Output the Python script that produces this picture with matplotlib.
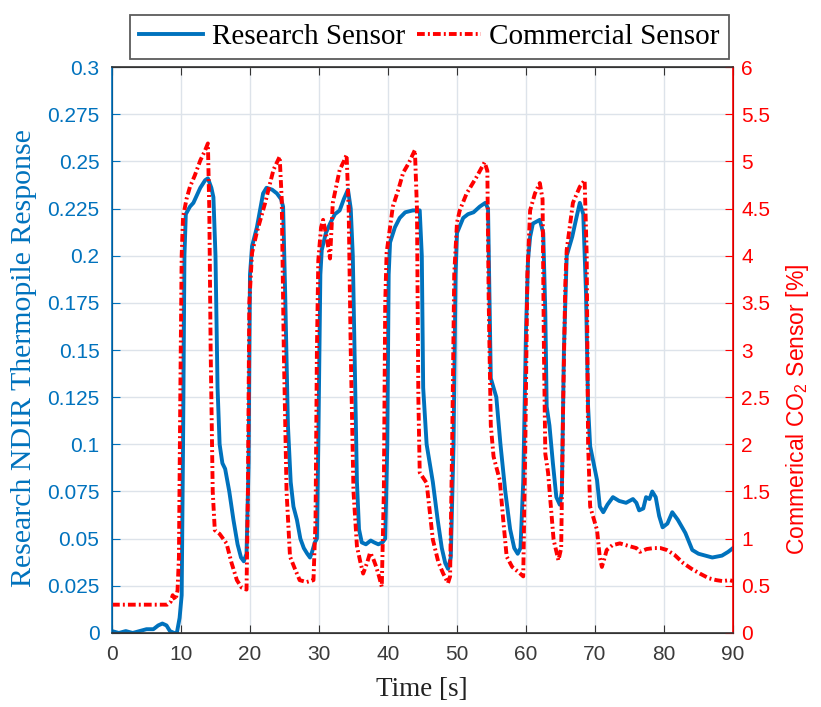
import numpy as np
import matplotlib.pyplot as plt

# Research sensor (left axis) - time [s], thermopile response
t_research = [0, 1, 2, 3, 4, 5, 6, 6.7, 7.3, 7.9, 8.4, 9, 9.4, 9.8, 10.1, 10.3, 10.5, 10.7,
              11.3, 11.8, 12.8, 13.5, 13.9, 14.4, 14.7, 15.0, 15.3, 15.6, 16.0, 16.4, 17.0,
              17.6, 18.2, 18.7, 19.1, 19.5, 19.8, 20.0, 20.3, 21.0, 21.5, 21.9, 22.4, 23.2,
              23.9, 24.5, 24.8, 25.1, 25.5, 25.9, 26.3, 26.8, 27.3, 27.8, 28.3, 28.7, 29.0,
              29.4, 29.7, 29.9, 30.2, 30.4, 31.0, 31.6, 32.3, 33.0, 33.6, 34.2, 34.6, 34.9,
              35.2, 35.5, 35.8, 36.2, 36.8, 37.5, 38.0, 38.6, 39.2, 39.6, 39.9, 40.1, 40.3,
              41.0, 41.7, 42.5, 43.6, 44.6, 44.9, 45.1, 45.6, 46.5, 47.2, 47.8, 48.3, 48.7,
              49.1, 49.5, 49.8, 50.0, 50.9, 51.6, 52.4, 53.3, 54.1, 54.5, 54.7, 54.9, 55.7,
              56.3, 57.0, 57.7, 58.3, 58.8, 59.2, 59.6, 60.0, 60.3, 60.6, 61.0, 62.0, 62.5,
              62.8, 63.0, 63.4, 63.9, 64.4, 64.9, 65.2, 65.5, 65.9, 66.7, 67.3, 67.8, 68.3,
              68.7, 69.0, 69.3, 69.8, 70.3, 70.7, 71.2, 71.8, 72.6, 73.5, 74.5, 75.5, 76.0,
              76.4, 77.0, 77.4, 77.9, 78.3, 78.8, 79.3, 79.8, 80.5, 81.2, 82.0, 83.1, 84.1,
              85.0, 86.0, 87.0, 88.4, 89.3, 90.0]
y_research = [0.001, 0.0, 0.001, 0.0, 0.001, 0.002, 0.002, 0.004, 0.005, 0.004, 0.001, 0.0,
              0.0, 0.008, 0.02, 0.1, 0.2, 0.222, 0.226, 0.228, 0.236, 0.24, 0.241, 0.236,
              0.231, 0.2, 0.13, 0.1, 0.09, 0.087, 0.075, 0.06, 0.047, 0.04, 0.038, 0.042,
              0.09, 0.19, 0.205, 0.215, 0.225, 0.233, 0.236, 0.235, 0.233, 0.23, 0.226, 0.18,
              0.11, 0.08, 0.067, 0.06, 0.05, 0.045, 0.042, 0.04, 0.043, 0.048, 0.05, 0.1,
              0.19, 0.203, 0.212, 0.217, 0.222, 0.224, 0.23, 0.235, 0.225, 0.2, 0.14, 0.08,
              0.055, 0.048, 0.047, 0.049, 0.048, 0.047, 0.048, 0.05, 0.1, 0.19, 0.207, 0.215,
              0.22, 0.223, 0.224, 0.224, 0.2, 0.13, 0.1, 0.08, 0.06, 0.045, 0.037, 0.034,
              0.04, 0.1, 0.19, 0.212, 0.22, 0.222, 0.223, 0.226, 0.228, 0.225, 0.18, 0.135,
              0.125, 0.1, 0.075, 0.055, 0.045, 0.042, 0.045, 0.08, 0.16, 0.198, 0.21, 0.217,
              0.219, 0.212, 0.17, 0.12, 0.11, 0.09, 0.072, 0.068, 0.075, 0.15, 0.2, 0.21,
              0.22, 0.228, 0.222, 0.18, 0.12, 0.099, 0.09, 0.081, 0.067, 0.064, 0.068, 0.072,
              0.07, 0.069, 0.071, 0.069, 0.065, 0.066, 0.072, 0.071, 0.075, 0.072, 0.062,
              0.056, 0.058, 0.064, 0.06, 0.053, 0.044, 0.042, 0.041, 0.04, 0.041, 0.043, 0.045]

# Commercial sensor (right axis) - CO2 [%]
t_commercial = [0, 2, 4, 6, 8, 8.5, 8.8, 9.2, 9.5, 9.7, 9.9, 10.1, 10.3, 10.8, 11.3, 12.0,
                12.8, 13.4, 13.9, 14.1, 14.3, 14.6, 14.9, 15.6, 16.6, 17.3, 18.1, 18.8, 19.5,
                19.7, 19.9, 20.3, 21.0, 22.2, 23.4, 24.3, 24.6, 24.9, 25.3, 25.8, 26.4, 27.2,
                28.2, 29.2, 29.5, 29.7, 29.9, 30.3, 30.6, 31.1, 31.6, 32.0, 33.0, 33.6, 34.0,
                34.3, 34.6, 35.0, 35.5, 36.0, 36.4, 37.0, 37.4, 37.8, 38.3, 38.7, 39.1, 39.4,
                39.6, 39.8, 40.7, 41.5, 42.2, 43.0, 43.9, 44.2, 44.4, 44.6, 45.6, 46.5, 47.3,
                48.0, 48.7, 49.0, 49.3, 49.6, 50.0, 50.4, 51.4, 52.8, 54.0, 54.4, 54.6, 54.9,
                55.3, 56.2, 56.7, 57.2, 58.0, 59.0, 59.6, 59.9, 60.2, 60.6, 61.3, 62.0, 62.4,
                62.6, 62.8, 63.2, 64.0, 64.7, 65.1, 65.4, 65.7, 65.9, 66.8, 67.8, 68.5, 68.8,
                69.0, 69.3, 70.3, 70.7, 71.0, 71.4, 71.7, 72.5, 73.6, 75.0, 76.0, 76.5, 77.5,
                78.5, 79.5, 80.4, 81.5, 82.8, 84.0, 85.2, 86.5, 87.6, 88.5, 89.5, 90.0]
y_commercial = [0.3, 0.3, 0.3, 0.3, 0.3, 0.33, 0.4, 0.35, 0.45, 0.8, 2.5, 4.0, 4.41, 4.6,
                4.73, 4.85, 5.01, 5.1, 5.19, 4.5, 3.0, 1.5, 1.09, 1.05, 0.95, 0.75, 0.56,
                0.48, 0.46, 1.5, 3.5, 4.03, 4.25, 4.56, 4.91, 5.05, 4.6, 3.0, 1.5, 0.81, 0.7,
                0.56, 0.54, 0.56, 1.2, 3.0, 3.95, 4.3, 4.38, 4.2, 3.97, 4.56, 4.91, 5.0, 5.07,
                4.5, 3.0, 1.5, 0.92, 0.75, 0.63, 0.75, 0.85, 0.8, 0.7, 0.6, 0.49, 1.5, 3.5,
                4.03, 4.52, 4.7, 4.88, 4.98, 5.12, 4.5, 2.5, 1.7, 1.59, 0.99, 0.75, 0.63, 0.53,
                0.6, 2.0, 3.8, 4.35, 4.48, 4.66, 4.83, 4.99, 4.9, 3.5, 2.2, 1.87, 1.62, 1.2,
                0.81, 0.7, 0.64, 0.6, 2.0, 3.8, 4.48, 4.66, 4.77, 4.6, 3.0, 1.9, 1.7, 0.99,
                0.77, 0.9, 2.5, 3.7, 4.06, 4.56, 4.73, 4.8, 4.0, 2.0, 1.34, 1.09, 0.8, 0.7,
                0.8, 0.88, 0.93, 0.95, 0.92, 0.9, 0.86, 0.89, 0.9, 0.9, 0.88, 0.83, 0.74,
                0.68, 0.63, 0.58, 0.56, 0.55, 0.56, 0.55]

x_ticks = list(range(0, 91, 10))
left_ticks = [0, 0.025, 0.05, 0.075, 0.1, 0.125, 0.15, 0.175, 0.2, 0.225, 0.25, 0.275, 0.3]
left_labels = ['0', '0.025', '0.05', '0.075', '0.1', '0.125', '0.15', '0.175', '0.2',
               '0.225', '0.25', '0.275', '0.3']
right_ticks = [0, 0.5, 1, 1.5, 2, 2.5, 3, 3.5, 4, 4.5, 5, 5.5, 6]
right_labels = ['0', '0.5', '1', '1.5', '2', '2.5', '3', '3.5', '4', '4.5', '5', '5.5', '6']

BLUE = '#0072BD'
RED = '#FF0000'
SANS = 'Liberation Sans'
SERIF = 'Liberation Serif'
W, H = 821, 707

fig = plt.figure(figsize=(8.21, 7.07), dpi=100)
ax = fig.add_axes([0.1364, 0.1047, 0.7564, 0.8005])
ax2 = ax.twinx()

l1, = ax.plot(t_research, y_research, color=BLUE, lw=2.8, label='Research Sensor')
l2, = ax2.plot(t_commercial, y_commercial, color=RED, lw=2.8,
               ls=(0, (2.0, 0.8, 0.5, 0.8)), label='Commercial Sensor')

ax.set_xlim(0, 90)
ax.set_ylim(0, 0.3)
ax2.set_ylim(0, 6)
ax.set_xticks(x_ticks)
ax.set_xticklabels([str(v) for v in x_ticks], fontfamily=SANS, fontsize=15, color='#3a3a3a')
ax.set_yticks(left_ticks)
ax.set_yticklabels(left_labels, fontfamily=SANS, fontsize=15, color=BLUE)
ax2.set_yticks(right_ticks)
ax2.set_yticklabels(right_labels, fontfamily=SANS, fontsize=15, color=RED)

ax.grid(True, color='#dde3ea', lw=1.0)
ax.set_axisbelow(True)
ax.tick_params(axis='x', direction='in', top=True, length=6, color='#333333', pad=9)
ax.tick_params(axis='y', direction='in', length=6, color=BLUE, pad=9)
ax2.tick_params(axis='y', direction='in', length=6, color=RED, pad=6)

for s in ['top', 'bottom']:
    ax.spines[s].set_color('#333333')
    ax2.spines[s].set_color('#333333')
ax2.spines['left'].set_color(BLUE)
ax2.spines['right'].set_color(RED)
for s in ax2.spines.values():
    s.set_linewidth(1.2)

# axis titles placed as in the reference
fig.text(422 / W, 1 - 690 / H, 'Time [s]', fontfamily=SERIF, fontsize=19.5,
         color='#222222', ha='center', va='center')
fig.text(24 / W, 1 - 358 / H, 'Research NDIR Thermopile Response', fontfamily=SERIF,
         fontsize=21.5, color=BLUE, rotation=90, ha='center', va='center')
fig.text(797 / W, 1 - 409 / H, r'Commerical CO$_\mathregular{2}$ Sensor [%]',
         fontfamily=SANS, fontsize=16.5, color=RED, rotation=90, ha='center', va='center')

leg = ax.legend([l1, l2], ['Research Sensor', 'Commercial Sensor'], ncol=2,
                loc='lower center', bbox_to_anchor=(0.511, 1.015), frameon=True,
                fancybox=False, edgecolor='#333333', prop={'family': SERIF, 'size': 21},
                handlelength=2.2, handletextpad=0.3, columnspacing=0.4, borderpad=0.3,
                borderaxespad=0.0)
leg.get_frame().set_linewidth(1.3)

fig.savefig('out.png', dpi=100)
